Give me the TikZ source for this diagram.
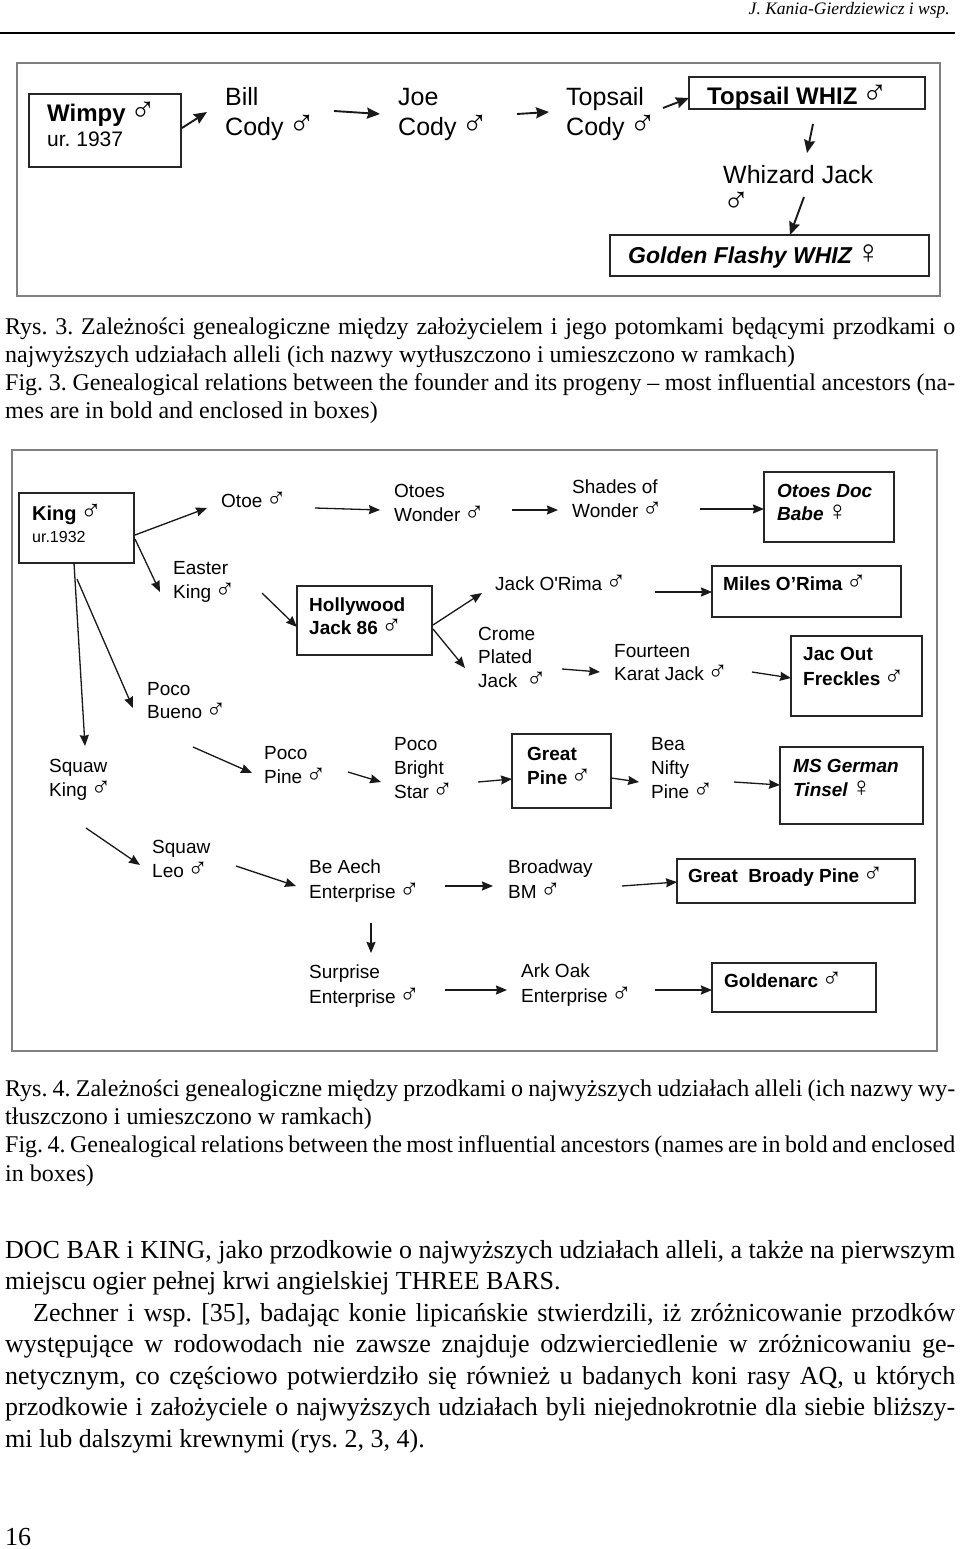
\documentclass[tikz,border=0pt]{standalone}
\usepackage{fontspec}
\usepackage{graphicx}
\setmainfont{Liberation Serif}
\newfontfamily\diag{Liberation Sans}
\usetikzlibrary{arrows.meta,calc}
\newcommand\ma{\kern-0.1em\scalebox{1.45}{\diag\mdseries\upshape\char"2642}}
\newcommand\fe{\kern-0.1em\scalebox{1.45}{\diag\mdseries\upshape\char"2640}}
\newcommand\ml[1]{\begin{tabular}[t]{@{}l@{}}#1\end{tabular}}
\newcommand\jl[2]{\hbox to #1{\spaceskip=0.25em plus 1em minus 0.12em\relax #2}}
\frenchspacing
\tikzset{
  pbox/.style={draw=black!85, line width=1.8pt, inner sep=0pt, outer sep=0pt, anchor=north west},
  figframe/.style={draw=black!50, line width=1.6pt},
  t3/.style={anchor=base west, inner sep=0pt, font=\diag\fontsize{25}{29}\selectfont},
  t4/.style={anchor=base west, inner sep=0pt, font=\diag\fontsize{19}{24}\selectfont},
  b4/.style={anchor=base west, inner sep=0pt, font=\diag\bfseries\fontsize{19}{24.5}\selectfont},
  arr/.style={-{Stealth[length=11pt,width=9pt,inset=1pt]}, line width=1.3pt, draw=black!90},
  arrb/.style={-{Stealth[length=13pt,width=11pt,inset=1.5pt]}, line width=1.9pt, draw=black!90},
  captxt/.style={anchor=base west, inner sep=0pt, font=\fontsize{24}{28}\selectfont},
  bodytxt/.style={anchor=base west, inner sep=0pt, font=\fontsize{26}{31}\selectfont},
}
\begin{document}
\begin{tikzpicture}[x=1pt,y=-1pt]
\fill[white] (0,0) rectangle (960,1549);
\path[use as bounding box] (0,0) rectangle (960,1549);

% header
\node[anchor=base east, inner sep=0pt, font=\itshape\fontsize{17.5}{20}\selectfont] (hdr) at (950,15) {J. Kania-Gierdziewicz i wsp.};
\draw[line width=1.3pt] (0,33) -- (955,33);

% ---------------- Figure 3 ----------------
\draw[figframe] (17,63) rectangle (940,296);
\node[pbox, minimum width=152pt, minimum height=73pt] (wimpybox) at (29,94) {};
\node[t3, font=\diag\fontsize{24}{25}\selectfont] (wimpyT) at (47,122)
  {\ml{\textbf{Wimpy} \ma\\{\fontsize{21}{25}\selectfont ur. 1937}}};
\node[t3] (bill) at (225,106) {\ml{Bill\\Cody \ma}};
\node[t3] (joe) at (398,106) {\ml{Joe\\Cody \ma}};
\node[t3] (tops) at (566,106) {\ml{Topsail\\Cody \ma}};
\node[pbox, minimum width=236pt, minimum height=32pt] (whizbox) at (689,77) {};
\node[t3, font=\diag\bfseries\fontsize{24}{29}\selectfont] (whizT) at (707,105) {Topsail WHIZ \ma};
\node[t3] (whizard) at (723,183) {Whizard Jack};
\node[t3] (whizsym) at (725,212) {\ma};
\node[pbox, minimum width=319pt, minimum height=41pt] (goldenbox) at (610,235) {};
\node[t3, font=\diag\bfseries\itshape\fontsize{23}{29}\selectfont] (goldenT) at (628,263) {Golden Flashy WHIZ \fe};

\draw[arrb] ($(wimpybox.north west)+(153,34)$) -- ($(bill.base west)+(-18,6)$);
\draw[arrb] ($(bill.base west)+(109,5)$) -- ($(joe.base west)+(-18,8)$);
\draw[arrb] ($(joe.base west)+(119,8)$) -- ($(tops.base west)+(-17,6)$);
\draw[arrb] ($(tops.base west)+(97,2)$) -- ($(whizbox.north west)+(0,21)$);
\draw[arrb] ($(whizbox.north west)+(124,47)$) -- ($(whizard.base west)+(84,-30)$);
\draw[arrb] ($(whizard.base west)+(81,14)$) -- ($(goldenbox.north west)+(180,0)$);

% caption 3
\node[captxt] (c3a) at (5,334) {\jl{950pt}{Rys. 3. Zależności genealogiczne między założycielem i jego potomkami będącymi przodkami o}};
\node[captxt] (c3b) at (5,362) {najwyższych udziałach alleli (ich nazwy wytłuszczono i umieszczono w ramkach)};
\node[captxt] (c3c) at (5,390) {\jl{950pt}{Fig. 3. Genealogical relations between the founder and its progeny – most influential ancestors (na-}};
\node[captxt] (c3d) at (5,418) {mes are in bold and enclosed in boxes)};

% ---------------- Figure 4 ----------------
\draw[figframe] (12,450) rectangle (937,1051);

\node[pbox, minimum width=115pt, minimum height=70pt] (kingbox) at (19,493) {};
\node[t4, font=\diag\fontsize{20}{22}\selectfont] (kingT) at (32,520)
  {\ml{\textbf{King} \ma\\{\fontsize{16}{22}\selectfont ur.1932}}};
\node[t4] (otoe) at (221,507) {Otoe \ma};
\node[t4] (otoesw) at (394,497) {\ml{Otoes\\Wonder \ma}};
\node[t4] (shades) at (572,493) {\ml{Shades of\\Wonder \ma}};
\node[pbox, minimum width=130pt, minimum height=70pt] (docbox) at (764,472) {};
\node[b4, font=\diag\bfseries\itshape\fontsize{19}{23}\selectfont] (docT) at (777,497) {\ml{Otoes Doc\\Babe \fe}};

\node[t4] (easter) at (173,574) {\ml{Easter\\King \ma}};
\node[pbox, minimum width=135pt, minimum height=69pt] (hollybox) at (297,586) {};
\node[b4, font=\diag\bfseries\fontsize{19}{23}\selectfont] (hollyT) at (309,611) {\ml{Hollywood\\Jack 86 \ma}};
\node[t4] (jackor) at (495,590) {Jack O\textquotesingle Rima \ma};
\node[pbox, minimum width=189pt, minimum height=51pt] (milesbox) at (712,566) {};
\node[b4] (milesT) at (723,590) {Miles O’Rima \ma};

\node[t4, font=\diag\fontsize{19}{23.5}\selectfont] (crome) at (478,640) {\ml{Crome\\Plated\\Jack\ \ \ma}};
\node[t4, font=\diag\fontsize{19}{23}\selectfont] (fourteen) at (614,657) {\ml{Fourteen\\Karat Jack \ma}};
\node[pbox, minimum width=131pt, minimum height=80pt] (jacbox) at (791,636) {};
\node[b4, font=\diag\bfseries\fontsize{19}{25}\selectfont] (jacT) at (803,660) {\ml{Jac Out\\Freckles \ma}};

\node[t4, font=\diag\fontsize{19}{23}\selectfont] (pocob) at (147,695) {\ml{Poco\\Bueno \ma}};
\node[t4] (squawk) at (49,772) {\ml{Squaw\\King \ma}};
\node[t4] (pocopine) at (264,759) {\ml{Poco\\Pine \ma}};
\node[t4] (pbs) at (394,750) {\ml{Poco\\Bright\\Star \ma}};
\node[pbox, minimum width=99pt, minimum height=74pt] (gpbox) at (512,734) {};
\node[b4, font=\diag\bfseries\fontsize{19}{24}\selectfont] (gpT) at (527,760) {\ml{Great\\Pine \ma}};
\node[t4] (bea) at (651,750) {\ml{Bea\\Nifty\\Pine \ma}};
\node[pbox, minimum width=143pt, minimum height=77pt] (msbox) at (780,747) {};
\node[b4, font=\diag\bfseries\itshape\fontsize{19}{24}\selectfont] (msT) at (793,772) {\ml{MS German\\Tinsel \fe}};

\node[t4] (squawleo) at (152,853) {\ml{Squaw\\Leo \ma}};
\node[t4, font=\diag\fontsize{19}{25}\selectfont] (beaech) at (309,873) {\ml{Be Aech\\Enterprise \ma}};
\node[t4, font=\diag\fontsize{19}{25}\selectfont] (broadway) at (508,873) {\ml{Broadway\\BM \ma}};
\node[pbox, minimum width=238pt, minimum height=44pt] (gbpbox) at (677,859) {};
\node[b4] (gbpT) at (688,882) {Great\ \ Broady Pine \ma};

\node[t4, font=\diag\fontsize{19}{25}\selectfont] (surprise) at (309,978) {\ml{Surprise\\Enterprise \ma}};
\node[t4, font=\diag\fontsize{19}{25}\selectfont] (arkoak) at (521,977) {\ml{Ark Oak\\Enterprise \ma}};
\node[pbox, minimum width=164pt, minimum height=49pt] (goldbox) at (712,963) {};
\node[b4] (goldT) at (724,987) {Goldenarc \ma};

% arrows figure 4
\draw[arr] ($(kingbox.north west)+(116,42)$) -- ($(otoe.base west)+(-14,1)$);
\draw[arr] ($(kingbox.north west)+(116,46)$) -- ($(easter.base west)+(-13,18)$);
\draw[arr] ($(kingbox.north west)+(58,86)$) -- ($(pocob.base west)+(-14,13)$);
\draw[arr] ($(kingbox.north west)+(55,70)$) -- ($(squawk.base west)+(36,-26)$);
\draw[arr] ($(otoe.base west)+(94,1)$) -- ($(otoesw.base west)+(-14,13)$);
\draw[arr] ($(otoesw.base west)+(118,13)$) -- ($(shades.base west)+(-14,17)$);
\draw[arr] ($(shades.base west)+(128,16)$) -- ($(docbox.north west)+(0,37)$);
\draw[arr] ($(easter.base west)+(89,19)$) -- ($(hollybox.north west)+(0,41)$);
\draw[arr] ($(hollybox.north west)+(136,39)$) -- ($(jackor.base west)+(-13,3)$);
\draw[arr] ($(hollybox.north west)+(136,43)$) -- ($(crome.base west)+(-13,28)$);
\draw[arr] ($(jackor.base west)+(160,2)$) -- ($(milesbox.north west)+(0,26)$);
\draw[arr] ($(crome.base west)+(84,29)$) -- ($(fourteen.base west)+(-14,15)$);
\draw[arr] ($(fourteen.base west)+(138,15)$) -- ($(jacbox.north west)+(0,42)$);
\draw[arr] ($(pocob.base west)+(46,52)$) -- ($(pocopine.base west)+(-12,14)$);
\draw[arr] ($(pocopine.base west)+(84,13)$) -- ($(pbs.base west)+(-13,32)$);
\draw[arr] ($(pbs.base west)+(84,32)$) -- ($(gpbox.north west)+(0,45)$);
\draw[arr] ($(gpbox.north west)+(99,44)$) -- ($(bea.base west)+(-12,32)$);
\draw[arr] ($(bea.base west)+(83,32)$) -- ($(msbox.north west)+(0,38)$);
\draw[arr] ($(squawk.base west)+(37,56)$) -- ($(squawleo.base west)+(-12,12)$);
\draw[arr] ($(squawleo.base west)+(84,13)$) -- ($(beaech.base west)+(-13,13)$);
\draw[arr] ($(beaech.base west)+(62,50)$) -- ($(surprise.base west)+(62,-25)$);
\draw[arr] ($(beaech.base west)+(136,13)$) -- ($(broadway.base west)+(-15,13)$);
\draw[arr] ($(broadway.base west)+(114,13)$) -- ($(gbpbox.north west)+(0,23)$);
\draw[arr] ($(surprise.base west)+(136,12)$) -- ($(arkoak.base west)+(-14,13)$);
\draw[arr] ($(arkoak.base west)+(134,13)$) -- ($(goldbox.north west)+(0,27)$);

% caption 4
\node[captxt] (c4a) at (5,1096) {\jl{950pt}{Rys. 4. Zależności genealogiczne między przodkami o najwyższych udziałach alleli (ich nazwy wy-}};
\node[captxt] (c4b) at (5,1124) {tłuszczono i umieszczono w ramkach)};
\node[captxt] (c4c) at (5,1152) {\jl{950pt}{Fig. 4. Genealogical relations between the most influential ancestors (names are in bold and enclosed}};
\node[captxt] (c4d) at (5,1181) {in boxes)};

% body text
\node[bodytxt] (p1) at (5,1258) {\jl{950pt}{DOC BAR i KING, jako przodkowie o najwyższych udziałach alleli, a także na pierwszym}};
\node[bodytxt] (p2) at (5,1289.5) {miejscu ogier pełnej krwi angielskiej THREE BARS.};
\node[bodytxt] (p3) at (33,1321) {\jl{922pt}{Zechner i wsp. [35], badając konie lipicańskie stwierdzili, iż zróżnicowanie przodków}};
\node[bodytxt] (p4) at (5,1352.5) {\jl{950pt}{występujące w rodowodach nie zawsze znajduje odzwierciedlenie w zróżnicowaniu ge-}};
\node[bodytxt] (p5) at (5,1384) {\jl{950pt}{netycznym, co częściowo potwierdziło się również u badanych koni rasy AQ, u których}};
\node[bodytxt] (p6) at (5,1415.5) {\jl{950pt}{przodkowie i założyciele o najwyższych udziałach byli niejednokrotnie dla siebie bliższy-}};
\node[bodytxt] (p7) at (5,1447) {mi lub dalszymi krewnymi (rys. 2, 3, 4).};

\node[bodytxt] (pnum) at (5,1545) {16};
\end{tikzpicture}
\end{document}
